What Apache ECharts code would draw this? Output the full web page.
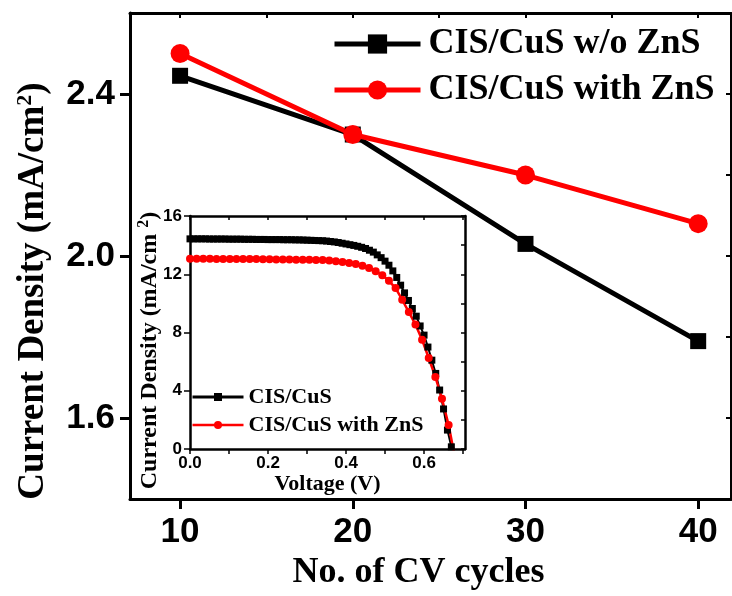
<!DOCTYPE html>
<html>
<head>
<meta charset="utf-8">
<script src="https://cdn.jsdelivr.net/npm/echarts@6/dist/echarts.min.js"></script>
<style>
  html, body { margin: 0; padding: 0; background: #fff; }
  #main { width: 732px; height: 596px; }
</style>
</head>
<body>
<div id="main"></div>
<script>
var SERIF = "'Times New Roman', 'Liberation Serif', serif";
var SANS = "Arial, 'Liberation Sans', sans-serif";

// main plot: current density vs number of CV cycles
var cycles = [10, 20, 30, 40];
var jNoZnS = [2.445, 2.30, 2.03, 1.79];
var jWithZnS = [2.50, 2.30, 2.20, 2.08];
var cycleTicks = [10, 20, 30, 40];
var cycleMinorTicks = [10, 15, 20, 25, 30, 35, 40];
var jTicks = [1.6, 2.0, 2.4];
var jMinorTicks = [1.6, 1.8, 2.0, 2.2, 2.4];

// inset: J-V curves
var vNoZnS = [0.00, 0.01, 0.02, 0.03, 0.04, 0.05, 0.06, 0.07, 0.08, 0.09,
  0.10, 0.11, 0.12, 0.13, 0.14, 0.15, 0.16, 0.17, 0.18, 0.19,
  0.20, 0.21, 0.22, 0.23, 0.24, 0.25, 0.26, 0.27, 0.28, 0.29,
  0.30, 0.31, 0.32, 0.33, 0.34, 0.35, 0.36, 0.37, 0.38, 0.39,
  0.40, 0.41, 0.42, 0.43, 0.44, 0.45, 0.46, 0.47, 0.48, 0.49,
  0.50, 0.51, 0.52, 0.53, 0.54, 0.55, 0.56, 0.57, 0.58, 0.59,
  0.60, 0.61, 0.62, 0.63, 0.64, 0.65, 0.66, 0.67];
var ivNoZnS = [14.43, 14.43, 14.43, 14.43, 14.43, 14.42, 14.42, 14.42, 14.42, 14.42,
  14.41, 14.41, 14.41, 14.41, 14.40, 14.40, 14.40, 14.39, 14.39, 14.39,
  14.38, 14.38, 14.38, 14.38, 14.37, 14.37, 14.37, 14.36, 14.36, 14.35,
  14.34, 14.33, 14.32, 14.31, 14.30, 14.28, 14.25, 14.22, 14.18, 14.13,
  14.08, 14.03, 13.98, 13.92, 13.85, 13.77, 13.65, 13.52, 13.33, 13.14,
  12.90, 12.62, 12.23, 11.78, 11.25, 10.72, 10.20, 9.65, 9.12, 8.45,
  7.82, 7.00, 6.10, 5.19, 4.05, 2.75, 1.30, 0.15];
var vWithZnS = [0.000, 0.017, 0.034, 0.051, 0.068, 0.085, 0.102, 0.119, 0.136, 0.153,
  0.170, 0.187, 0.204, 0.221, 0.238, 0.255, 0.272, 0.289, 0.306, 0.323,
  0.340, 0.357, 0.374, 0.391, 0.408, 0.425, 0.442, 0.459, 0.476, 0.493,
  0.510, 0.527, 0.544, 0.561, 0.578, 0.595, 0.612, 0.629, 0.646, 0.663, 0.680];
var ivWithZnS = [13.06, 13.06, 13.06, 13.06, 13.05, 13.05, 13.05, 13.05, 13.04, 13.04,
  13.04, 13.03, 13.03, 13.02, 13.02, 13.01, 13.00, 13.00, 12.99, 12.98,
  12.97, 12.94, 12.90, 12.84, 12.77, 12.70, 12.58, 12.43, 12.20, 11.93,
  11.55, 11.05, 10.25, 9.40, 8.55, 7.50, 6.25, 4.95, 3.45, 1.65, -0.70];
var vTicks = [0, 0.2, 0.4, 0.6];
var vMinorTicks = [0, 0.1, 0.2, 0.3, 0.4, 0.5, 0.6, 0.7];

function pairs(xs, ys) {
  return xs.map(function (x, i) { return [x, ys[i]]; });
}

var chart = echarts.init(document.getElementById('main'), null, { renderer: 'canvas' });

var option = {
  backgroundColor: '#ffffff',
  animation: false,
  grid: [
    { left: 130, top: 13, width: 601, height: 493 },
    { left: 190, top: 216, width: 275, height: 233, show: true, backgroundColor: '#fff', borderWidth: 0 }
  ],
  legend: [{
    data: [
      { name: 'CIS/CuS w/o ZnS', lineStyle: { width: 5 } },
      { name: 'CIS/CuS with ZnS', lineStyle: { width: 5 } }
    ],
    orient: 'vertical',
    left: 332,
    top: 26,
    padding: 0,
    itemWidth: 86,
    itemHeight: 24,
    itemGap: 10,
    selectedMode: false,
    textStyle: { fontFamily: SERIF, fontWeight: 'bold', fontSize: 36, color: '#000', padding: [0, 0, 0, 3] }
  }, {
    data: [{ name: 'CIS/CuS', lineStyle: { width: 3 } }, { name: 'CIS/CuS with ZnS ', lineStyle: { width: 2.5 } }],
    orient: 'vertical',
    left: 191,
    top: 386,
    padding: 0,
    itemWidth: 51,
    itemHeight: 10,
    itemGap: 6,
    selectedMode: false,
    textStyle: { fontFamily: SERIF, fontWeight: 'bold', fontSize: 22, color: '#000' }
  }],
  xAxis: [{
    gridIndex: 0, type: 'value', min: 7.1, max: 41.9, position: 'bottom',
    axisLine: { onZero: false, lineStyle: { color: '#000', width: 3 } },
    axisTick: { customValues: cycleTicks, length: 10, lineStyle: { color: '#000', width: 3 } },
    axisLabel: { customValues: cycleTicks, margin: 16, color: '#000', fontSize: 35, fontWeight: 'bold', fontFamily: SANS },
    splitLine: { show: false },
    name: 'No. of CV cycles', nameLocation: 'middle', nameGap: 52,
    nameTextStyle: { fontFamily: SERIF, fontWeight: 'bold', fontSize: 36, color: '#000', padding: [0, 24, 0, 0] }
  }, {
    gridIndex: 0, type: 'value', min: 7.1, max: 41.9, position: 'top',
    axisLine: { onZero: false, lineStyle: { color: '#000', width: 3 } },
    axisTick: { inside: true, customValues: cycleMinorTicks, length: 5, lineStyle: { color: '#000', width: 2 } },
    axisLabel: { show: false },
    splitLine: { show: false }
  }, {
    gridIndex: 1, type: 'value', min: 0, max: 0.705, position: 'bottom',
    axisLine: { onZero: false, lineStyle: { color: '#000', width: 2.5 } },
    axisTick: { customValues: vMinorTicks, length: 5, lineStyle: { color: '#000', width: 1.5 } },
    axisLabel: {
      customValues: vTicks, margin: 6, color: '#000', fontSize: 17, fontWeight: 'bold', fontFamily: SANS,
      formatter: function (v) { return v.toFixed(1); }
    },
    splitLine: { show: false },
    name: 'Voltage (V)', nameLocation: 'middle', nameGap: 23,
    nameTextStyle: { fontFamily: SERIF, fontWeight: 'bold', fontSize: 22, color: '#000' }
  }, {
    gridIndex: 1, type: 'value', min: 0, max: 0.705, position: 'top',
    axisLine: { onZero: false, lineStyle: { color: '#000', width: 2.5 } },
    axisTick: { inside: true, customValues: vMinorTicks, length: 4, lineStyle: { color: '#000', width: 1.5 } },
    axisLabel: { show: false },
    splitLine: { show: false }
  }],
  yAxis: [{
    gridIndex: 0, type: 'value', min: 1.4, max: 2.6, position: 'left',
    axisLine: { show: true, onZero: false, lineStyle: { color: '#000', width: 3 } },
    axisTick: { show: true, customValues: jTicks, length: 10, lineStyle: { color: '#000', width: 3 } },
    axisLabel: {
      customValues: jTicks, margin: 15, color: '#000', fontSize: 35, fontWeight: 'bold', fontFamily: SANS,
      formatter: function (v) { return v.toFixed(1); }
    },
    splitLine: { show: false },
    name: '{a|Current Density (mA/cm}{s|2}{a|)}', nameLocation: 'middle', nameGap: 78,
    nameTextStyle: {
      color: '#000', padding: [0, 70, 0, 0],
      rich: {
        a: { fontFamily: SERIF, fontWeight: 'bold', fontSize: 37, color: '#000' },
        s: { fontFamily: SERIF, fontWeight: 'bold', fontSize: 22, color: '#000', padding: [0, 0, 16, 0] }
      }
    }
  }, {
    gridIndex: 0, type: 'value', min: 1.4, max: 2.6, position: 'right',
    axisLine: { show: true, onZero: false, lineStyle: { color: '#000', width: 2 } },
    axisTick: { show: true, inside: true, customValues: jMinorTicks, length: 5, lineStyle: { color: '#000', width: 2 } },
    axisLabel: { show: false },
    splitLine: { show: false }
  }, {
    gridIndex: 1, type: 'value', min: 0, max: 16, interval: 4, position: 'left',
    axisLine: { show: true, onZero: false, lineStyle: { color: '#000', width: 2.5 } },
    axisTick: { show: true, length: 6, lineStyle: { color: '#000', width: 1.5 } },
    axisLabel: { margin: 8, color: '#000', fontSize: 17, fontWeight: 'bold', fontFamily: SANS },
    splitLine: { show: false },
    name: '{a|Current Density (mA/cm }{s|2}{a|)}', nameLocation: 'middle', nameGap: 27,
    nameMoveOverlap: false,
    nameTextStyle: {
      color: '#000', padding: [0, 36, 0, 0],
      rich: {
        a: { fontFamily: SERIF, fontWeight: 'bold', fontSize: 24, color: '#000' },
        s: { fontFamily: SERIF, fontWeight: 'bold', fontSize: 16, color: '#000', padding: [0, 0, 11, 0] }
      }
    }
  }, {
    gridIndex: 1, type: 'value', min: 0, max: 16, interval: 2, position: 'right',
    axisLine: { show: true, onZero: false, lineStyle: { color: '#000', width: 2.5 } },
    axisTick: { show: true, inside: true, length: 4, lineStyle: { color: '#000', width: 1.5 } },
    axisLabel: { show: false },
    splitLine: { show: false }
  }],
  series: [{
    name: 'CIS/CuS w/o ZnS', type: 'line', xAxisIndex: 0, yAxisIndex: 0,
    data: pairs(cycles, jNoZnS),
    symbol: 'rect', symbolSize: 16,
    lineStyle: { color: '#000', width: 5 },
    itemStyle: { color: '#000' }
  }, {
    name: 'CIS/CuS with ZnS', type: 'line', xAxisIndex: 0, yAxisIndex: 0,
    data: pairs(cycles, jWithZnS),
    symbol: 'circle', symbolSize: 19,
    lineStyle: { color: '#ff0000', width: 5 },
    itemStyle: { color: '#ff0000' }
  }, {
    name: 'CIS/CuS', type: 'line', xAxisIndex: 2, yAxisIndex: 2,
    data: pairs(vNoZnS, ivNoZnS),
    symbol: 'rect', symbolSize: 7, showAllSymbol: true, clip: true,
    lineStyle: { color: '#000', width: 2 },
    itemStyle: { color: '#000' }
  }, {
    name: 'CIS/CuS with ZnS ', type: 'line', xAxisIndex: 2, yAxisIndex: 2,
    data: pairs(vWithZnS, ivWithZnS),
    symbol: 'circle', symbolSize: 8, showAllSymbol: true, clip: true,
    lineStyle: { color: '#ff0000', width: 2.5 },
    itemStyle: { color: '#ff0000' }
  }]
};

chart.setOption(option);
</script>
</body>
</html>
